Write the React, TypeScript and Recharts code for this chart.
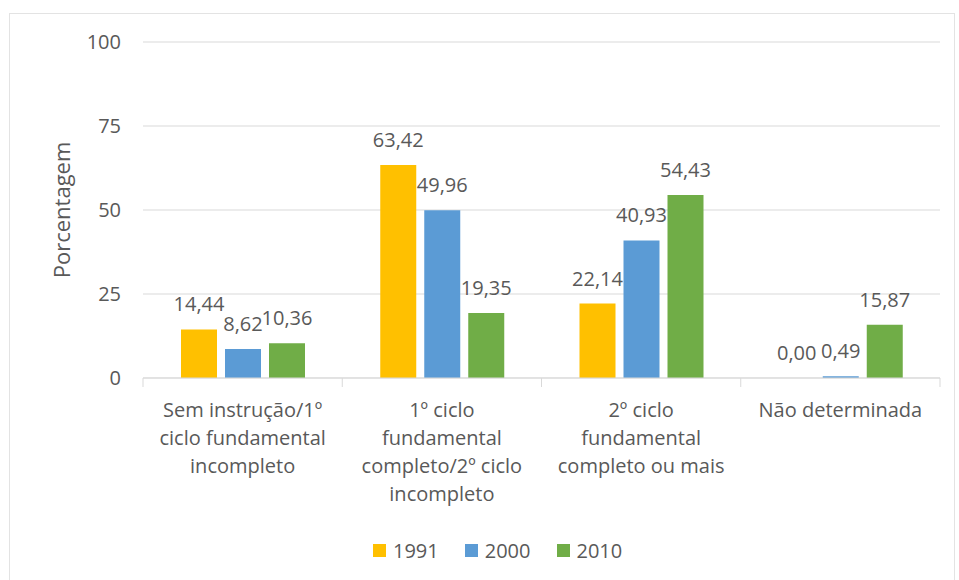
import React from 'react';
import { BarChart, Bar, XAxis, YAxis, CartesianGrid, LabelList } from 'recharts';

const categories = [
  'Sem instrução/1º\nciclo fundamental\nincompleto',
  '1º ciclo\nfundamental\ncompleto/2º ciclo\nincompleto',
  '2º ciclo\nfundamental\ncompleto ou mais',
  'Não determinada',
];
const values1991 = [14.44, 63.42, 22.14, 0.0];
const values2000 = [8.62, 49.96, 40.93, 0.49];
const values2010 = [10.36, 19.35, 54.43, 15.87];
const seriesNames = ['1991', '2000', '2010'];
const seriesColors = ['#FFC000', '#5B9BD5', '#70AD47'];
const yTicks = [0, 25, 50, 75, 100];
const yAxisTitle = 'Porcentagem';

const data = categories.map((name, i) => ({
  name,
  s1991: values1991[i],
  s2000: values2000[i],
  s2010: values2010[i],
}));
const seriesKeys = ['s1991', 's2000', 's2010'];

const W = 959;
const H = 580;
const MARGIN = { top: 42, right: 19, left: 50, bottom: 72 };
const Y_AXIS_W = 93;
const X_AXIS_H = 130;
const PLOT_W = W - MARGIN.left - Y_AXIS_W - MARGIN.right;
const BAND = PLOT_W / categories.length;

const FONT = '"Open Sans", "DejaVu Sans", sans-serif';
const TEXT = '#595959';
const GRID = '#d9d9d9';

const fmt = (v: any) => Number(v).toFixed(2).replace('.', ',');

function CategoryTick(props: any) {
  const { x, y, payload, index } = props;
  const lines = String(payload.value).split('\n');
  return (
    <g>
      <line x1={x - BAND / 2} x2={x - BAND / 2} y1={y} y2={y + 9} stroke={GRID} strokeWidth={1} />
      {index === categories.length - 1 && (
        <line x1={x + BAND / 2} x2={x + BAND / 2} y1={y} y2={y + 9} stroke={GRID} strokeWidth={1} />
      )}
      <text x={x} y={y + 39} textAnchor="middle" fill={TEXT} fontSize={20} fontFamily={FONT}>
        {lines.map((l, i) => (
          <tspan key={i} x={x} dy={i === 0 ? 0 : 28}>
            {l}
          </tspan>
        ))}
      </text>
    </g>
  );
}

function ValueLabel(props: any) {
  const { x, y, width, value } = props;
  if (value === undefined || value === null) return null;
  return (
    <text
      x={Number(x) + Number(width) / 2}
      y={Number(y) - 18}
      textAnchor="middle"
      fill={TEXT}
      fontSize={20}
      fontFamily={FONT}
    >
      {fmt(value)}
    </text>
  );
}

export default function App() {
  return (
    <div style={{ position: 'absolute', left: 0, top: 0, width: W, height: H, background: '#fff', overflow: 'hidden' }}>
      <div
        style={{
          position: 'absolute',
          left: 9,
          top: 13,
          width: 946,
          height: 580,
          border: '1px solid #e3e3e3',
          boxSizing: 'border-box',
        }}
      />
      <div style={{ position: 'absolute', left: 0, top: 0 }}>
        <BarChart width={W} height={H} data={data} margin={MARGIN} barSize={36} barGap={8}>
          <CartesianGrid vertical={false} stroke={GRID} />
          <XAxis
            dataKey="name"
            height={X_AXIS_H}
            interval={0}
            axisLine={{ stroke: GRID }}
            tickLine={false}
            tickSize={0}
            tickMargin={0}
            tick={<CategoryTick />}
          />
          <YAxis
            width={Y_AXIS_W}
            domain={[0, 100]}
            ticks={yTicks}
            axisLine={false}
            tickLine={false}
            tickSize={0}
            tickMargin={22}
            tick={{ fill: TEXT, fontSize: 20, fontFamily: FONT }}
            label={{
              value: yAxisTitle,
              angle: -90,
              position: 'insideLeft',
              offset: 12,
              fill: TEXT,
              fontSize: 22,
              fontFamily: FONT,
              style: { textAnchor: 'middle' },
            }}
          />
          {seriesKeys.map((k, i) => (
            <Bar
              key={k}
              dataKey={k}
              name={seriesNames[i]}
              fill={seriesColors[i]}
              isAnimationActive={false}
              minPointSize={(v: any) => (Number(v) === 0 ? 0.01 : 0)}
            >
              <LabelList dataKey={k} content={<ValueLabel />} />
            </Bar>
          ))}
        </BarChart>
      </div>
      <div
        style={{
          position: 'absolute',
          left: 373,
          top: 537,
          height: 26,
          display: 'flex',
          alignItems: 'center',
          fontFamily: FONT,
          fontSize: 20,
          color: TEXT,
          whiteSpace: 'nowrap',
        }}
      >
        {seriesNames.map((n, i) => (
          <div key={n} style={{ display: 'flex', alignItems: 'center', marginLeft: i === 0 ? 0 : 26 }}>
            <span style={{ display: 'inline-block', width: 13, height: 13, background: seriesColors[i], marginRight: 7 }} />
            <span>{n}</span>
          </div>
        ))}
      </div>
    </div>
  );
}
